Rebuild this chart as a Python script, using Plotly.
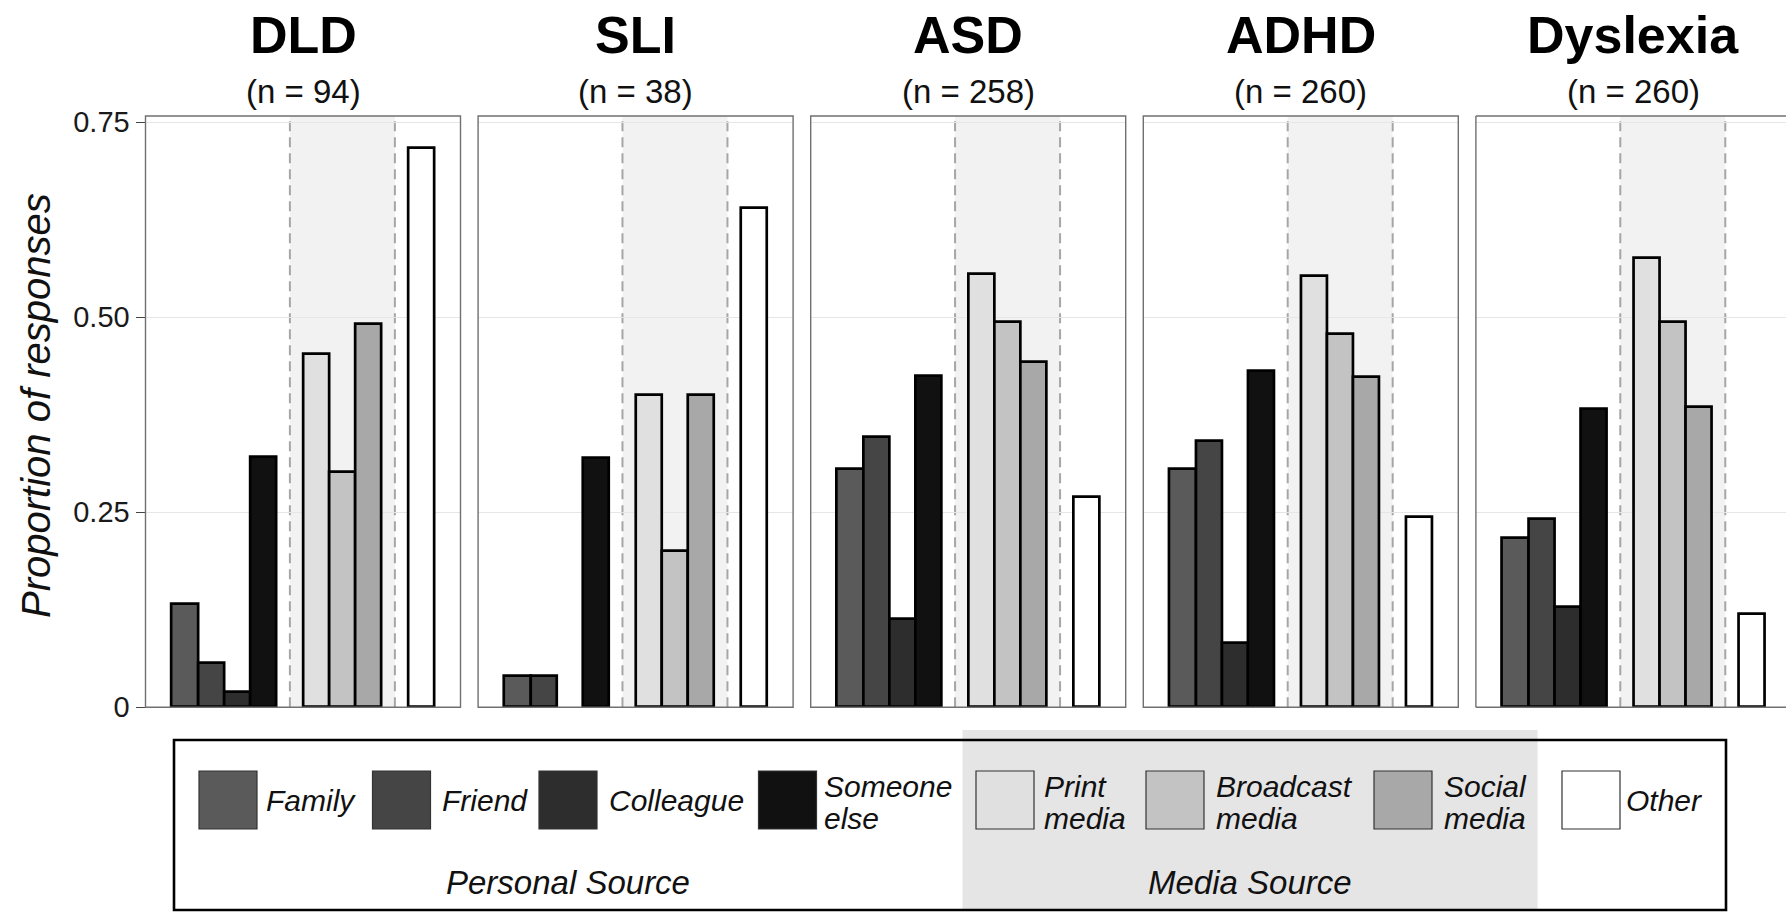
import plotly.graph_objects as go

# ---------------- data ----------------
panels = ["DLD", "SLI", "ASD", "ADHD", "Dyslexia"]
n_sizes = [94, 38, 258, 260, 260]
sources = ["Family", "Friend", "Colleague", "Someone else",
           "Print media", "Broadcast media", "Social media", "Other"]
source_groups = ["Personal Source"] * 4 + ["Media Source"] * 3 + ["Other"]
dld = [0.132, 0.057, 0.019, 0.321, 0.453, 0.302, 0.491, 0.717]
sli = [0.04, 0.04, 0.0, 0.32, 0.40, 0.20, 0.40, 0.64]
asd = [0.305, 0.347, 0.113, 0.425, 0.556, 0.494, 0.443, 0.270]
adhd = [0.306, 0.341, 0.082, 0.431, 0.553, 0.478, 0.424, 0.244]
dyslexia = [0.217, 0.241, 0.128, 0.382, 0.576, 0.494, 0.385, 0.120]
y_tickvals = [0, 0.25, 0.5, 0.75]
y_ticktext = ["0", "0.25", "0.50", "0.75"]

values = [dld, sli, asd, adhd, dyslexia]

# ---------------- styles ----------------
W, H = 1786, 914
FONT = "Liberation Sans, Arial, Helvetica, sans-serif"
colors = ["#5a5a5a", "#454545", "#2d2d2d", "#111111",
          "#e0e0e0", "#c3c3c3", "#a8a8a8", "#ffffff"]

def px(x):
    return x / W

def py(y):
    return 1 - y / H

# bar positions: consecutive within a group, one empty slot between groups
pos = []
dividers = []
x = 0
prev = None
for g in source_groups:
    if prev is not None and g != prev:
        x += 2
        dividers.append(x - 1)
    else:
        x += 1
    pos.append(x)
    prev = g

panel_left0 = 145.5
panel_pitch = 332.6
panel_w = 315.0
unit_px = panel_w / 12.0
y_top_px, y_bot_px = 116.0, 707.3
y_max = 0.75 + (122.3 - y_top_px) / 780.0

fig = go.Figure()
shapes = []
annotations = []

for i, (name, n, vals) in enumerate(zip(panels, n_sizes, values)):
    k = i + 1
    xa = "x" if k == 1 else f"x{k}"
    ya = "y" if k == 1 else f"y{k}"
    left = panel_left0 + i * panel_pitch
    right = left + panel_w
    xr = [-0.5, 11.5]
    if right > W:
        xr = [-0.5, -0.5 + (W - left) / unit_px]
        right = W
    fig.add_trace(go.Bar(
        x=pos, y=[v if v > 0 else None for v in vals],
        width=1.0,
        marker=dict(color=colors, line=dict(color="#000000", width=2.7)),
        xaxis=xa, yaxis=ya, showlegend=False,
        hovertext=sources,
    ))
    fig.layout[f"xaxis{k}"] = dict(
        domain=[px(left), px(right)], range=xr, anchor=ya,
        showgrid=False, zeroline=False, showticklabels=False, ticks="",
        showline=False, fixedrange=True, automargin=False,
    )
    fig.layout[f"yaxis{k}"] = dict(
        domain=[py(y_bot_px), py(y_top_px)], range=[0, y_max], anchor=xa,
        tickvals=y_tickvals, ticktext=y_ticktext,
        showgrid=True, gridcolor="#e6e6e6", gridwidth=1.3,
        zeroline=False, showline=False, fixedrange=True, automargin=False,
        showticklabels=(k == 1),
        ticks="outside" if k == 1 else "", ticklen=9, tickwidth=1.3,
        tickcolor="#444444",
        tickfont=dict(family=FONT, size=29, color="#1a1a1a"),
    )
    # shaded media band
    shapes.append(dict(type="rect", xref=xa, yref=f"{ya} domain",
                       x0=dividers[0], x1=dividers[1], y0=0, y1=1,
                       fillcolor="#f2f2f2", line=dict(width=0), layer="below"))
    for d in dividers:
        shapes.append(dict(type="line", xref=xa, yref=f"{ya} domain",
                           x0=d, x1=d, y0=0, y1=1,
                           line=dict(color="#a6a6a6", width=2, dash="10px,6px"),
                           layer="below"))
    # panel border
    bcol = dict(color="#707070", width=1.4)
    if k < len(panels):
        shapes.append(dict(type="rect", xref=f"{xa} domain", yref=f"{ya} domain",
                           x0=0, x1=1, y0=0, y1=1, line=bcol,
                           fillcolor="rgba(0,0,0,0)", layer="above"))
    else:
        for (x0, x1, y0, y1) in [(0, 0, 0, 1), (0, 1, 1, 1), (0, 1, 0, 0)]:
            shapes.append(dict(type="line", xref=f"{xa} domain", yref=f"{ya} domain",
                               x0=x0, x1=x1, y0=y0, y1=y1, line=bcol, layer="above"))
    cx = panel_left0 + i * panel_pitch + panel_w / 2
    annotations.append(dict(text=f"<b>{name}</b>", x=px(cx), y=py(35),
                            xref="paper", yref="paper", showarrow=False,
                            xanchor="center", yanchor="middle",
                            font=dict(family=FONT, size=52, color="#000000")))
    annotations.append(dict(text=f"(n = {n})", x=px(cx), y=py(91),
                            xref="paper", yref="paper", showarrow=False,
                            xanchor="center", yanchor="middle",
                            font=dict(family=FONT, size=33, color="#111111")))

# y-axis title
annotations.append(dict(text="<i>Proportion of responses</i>", x=px(36), y=py(406),
                        xref="paper", yref="paper", showarrow=False, textangle=-90,
                        xanchor="center", yanchor="middle",
                        font=dict(family=FONT, size=40, color="#111111")))

# ---------------- custom legend ----------------
shapes.append(dict(type="rect", xref="paper", yref="paper",
                   x0=px(962.5), x1=px(1537.6), y0=py(911), y1=py(730),
                   fillcolor="#e5e5e5", line=dict(width=0), layer="above"))
shapes.append(dict(type="rect", xref="paper", yref="paper",
                   x0=px(174), x1=px(1726), y0=py(910), y1=py(740),
                   fillcolor="rgba(0,0,0,0)", line=dict(color="#000000", width=2.6),
                   layer="above"))
legend_box_left = [199, 372.5, 539, 758.5, 976, 1146, 1374, 1562]
legend_text_left = [264, 440, 607, 822, 1042, 1214, 1442, 1624]
box_w, box_top, box_bot = 58, 771, 829
for lab, col, bl, tl in zip(sources, colors, legend_box_left, legend_text_left):
    shapes.append(dict(type="rect", xref="paper", yref="paper",
                       x0=px(bl), x1=px(bl + box_w), y0=py(box_bot), y1=py(box_top),
                       fillcolor=col, line=dict(color="#333333", width=1.2),
                       layer="above"))
    parts = lab.split(" ")
    ys = [800] if len(parts) == 1 else [786, 818]
    for txt, yy in zip(parts, ys):
        annotations.append(dict(text=f"<i>{txt}</i>", x=px(tl), y=py(yy),
                                xref="paper", yref="paper", showarrow=False,
                                xanchor="left", yanchor="middle",
                                font=dict(family=FONT, size=30, color="#111111")))
group_label_x = {"Personal Source": 568, "Media Source": 1249.5}
for g, gx in group_label_x.items():
    annotations.append(dict(text=f"<i>{g}</i>", x=px(gx), y=py(882),
                            xref="paper", yref="paper", showarrow=False,
                            xanchor="center", yanchor="middle",
                            font=dict(family=FONT, size=33, color="#111111")))

fig.update_layout(
    template="none",
    width=W, height=H, autosize=False,
    margin=dict(l=0, r=0, t=0, b=0, pad=0, autoexpand=False),
    paper_bgcolor="#ffffff", plot_bgcolor="#ffffff",
    showlegend=False, bargap=0,
    shapes=shapes, annotations=annotations,
    font=dict(family=FONT),
)

fig.write_html(
    "out.html",
    config={"responsive": False, "displayModeBar": False},
    post_script="document.body.style.margin='0px';document.body.style.overflow='hidden';",
)
